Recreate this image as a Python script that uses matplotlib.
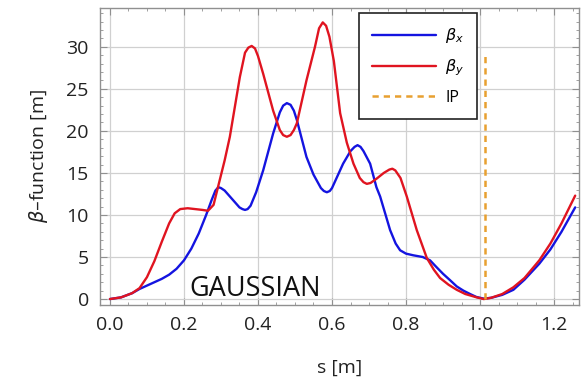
import matplotlib.pyplot as plt
from matplotlib.ticker import MultipleLocator

plt.rcParams["font.family"] = ["Open Sans", "DejaVu Sans"]
plt.rcParams["mathtext.fontset"] = "dejavusans"

# beta_x (blue)
s_x = [0.00, 0.03, 0.06, 0.08, 0.11, 0.14, 0.16, 0.18, 0.20, 0.22, 0.24, 0.26,
       0.275, 0.285, 0.293, 0.30, 0.31, 0.33, 0.35, 0.358, 0.365, 0.372, 0.38,
       0.395, 0.414, 0.441, 0.459, 0.468, 0.478, 0.488, 0.497, 0.505, 0.531,
       0.55, 0.57, 0.578, 0.586, 0.594, 0.60, 0.63, 0.65, 0.661, 0.669, 0.677,
       0.685, 0.703, 0.72, 0.73, 0.757, 0.772, 0.784, 0.80, 0.82, 0.845, 0.865,
       0.88, 0.90, 0.92, 0.937, 0.955, 0.973, 0.99, 1.01, 1.03, 1.06, 1.09,
       1.12, 1.16, 1.19, 1.22, 1.257]
beta_x = [0.0, 0.2, 0.7, 1.2, 1.8, 2.4, 2.9, 3.6, 4.6, 6.0, 7.8, 10.0,
          11.8, 12.9, 13.3, 13.2, 12.9, 11.9, 10.9, 10.7, 10.6, 10.7, 11.1,
          12.7, 15.3, 19.7, 22.2, 23.0, 23.3, 23.1, 22.4, 21.3, 16.9,
          14.8, 13.2, 12.85, 12.7, 12.85, 13.2, 16.1, 17.6, 18.1, 18.3, 18.1,
          17.6, 16.1, 13.3, 12.2, 8.2, 6.6, 5.8, 5.4, 5.2, 5.0, 4.6,
          3.9, 3.0, 2.2, 1.5, 1.0, 0.6, 0.25, 0.05, 0.15, 0.5, 1.1,
          2.3, 4.2, 5.9, 8.0, 10.9]

# beta_y (red)
s_y = [0.00, 0.03, 0.06, 0.08, 0.10, 0.12, 0.14, 0.16, 0.175, 0.19, 0.21, 0.23,
       0.25, 0.265, 0.28, 0.293, 0.31, 0.324, 0.351, 0.365, 0.374, 0.383, 0.392,
       0.40, 0.414, 0.441, 0.459, 0.468, 0.478, 0.488, 0.497, 0.505, 0.531,
       0.554, 0.565, 0.575, 0.584, 0.593, 0.605, 0.622, 0.64, 0.658, 0.675,
       0.685, 0.694, 0.704, 0.72, 0.74, 0.755, 0.763, 0.771, 0.785, 0.802,
       0.829, 0.856, 0.875, 0.892, 0.915, 0.937, 0.96, 0.991, 1.01, 1.03,
       1.06, 1.09, 1.12, 1.16, 1.19, 1.22, 1.257]
beta_y = [0.0, 0.2, 0.7, 1.3, 2.6, 4.5, 6.8, 9.0, 10.2, 10.7, 10.8, 10.7,
          10.6, 10.5, 11.2, 13.5, 16.5, 19.3, 26.4, 29.3, 29.9, 30.1, 29.8,
          28.9, 26.8, 22.4, 20.1, 19.5, 19.3, 19.5, 20.1, 20.9, 26.0,
          30.0, 32.2, 32.9, 32.5, 31.2, 28.3, 22.1, 18.6, 16.1, 14.4,
          13.9, 13.7, 13.8, 14.3, 15.0, 15.4, 15.5, 15.3, 14.4, 12.2,
          8.2, 4.9, 3.5, 2.5, 1.7, 1.1, 0.6, 0.2, 0.0, 0.15,
          0.6, 1.4, 2.5, 4.6, 6.6, 9.0, 12.3]

ip_s = 1.013
ip_top = 29.0

fig = plt.figure(figsize=(5.81, 3.86), dpi=100)
ax = fig.add_axes([0.172, 0.21, 0.825, 0.769])

line_kw = dict(lw=1.7, solid_joinstyle="round", solid_capstyle="round")
ax.plot(s_x, beta_x, color="#1414e0", label=r"$\beta_x$", **line_kw)
ax.plot(s_y, beta_y, color="#e01420", label=r"$\beta_y$", **line_kw)
ax.plot([ip_s, ip_s], [0, ip_top], color="#e8a030", lw=1.8,
        linestyle=(0, (2.5, 2.0)), label="IP")

ax.set_xlim(-0.027, 1.268)
ax.set_ylim(-0.7, 34.6)
ax.xaxis.set_major_locator(MultipleLocator(0.2))
ax.xaxis.set_minor_locator(MultipleLocator(0.05))
ax.yaxis.set_major_locator(MultipleLocator(5))
ax.yaxis.set_minor_locator(MultipleLocator(1))
ax.xaxis.set_major_formatter(lambda v, p: f"{v:.1f}")

ax.grid(True, which="major", color="#d0d0d0", lw=0.9)
ax.set_axisbelow(True)
for sp in ax.spines.values():
    sp.set_color("#909090")
    sp.set_linewidth(1.0)
ax.tick_params(which="both", direction="in", top=True, right=True,
               color="#909090", labelsize=14, labelcolor="#222222")
ax.tick_params(which="major", length=5, pad=8)
ax.tick_params(which="minor", length=2.5)

ax.set_xlabel("s [m]", fontsize=14, color="#222222", labelpad=18)
ax.set_ylabel(r"$\mathit{\beta}$–function [m]", fontsize=14, color="#222222", labelpad=12)

ax.text(0.216, 0.36, "GAUSSIAN", fontsize=19.5, va="baseline", ha="left", color="#111111")

leg = ax.legend(loc="upper left", bbox_to_anchor=(0.541, 0.982), fontsize=11.5,
                handlelength=4.0, labelspacing=0.75, borderpad=0.8,
                handletextpad=0.6, borderaxespad=0, fancybox=False, framealpha=1)
leg.get_frame().set_edgecolor("#222222")
leg.get_frame().set_linewidth(1.2)

fig.savefig("out.png", dpi=100)
